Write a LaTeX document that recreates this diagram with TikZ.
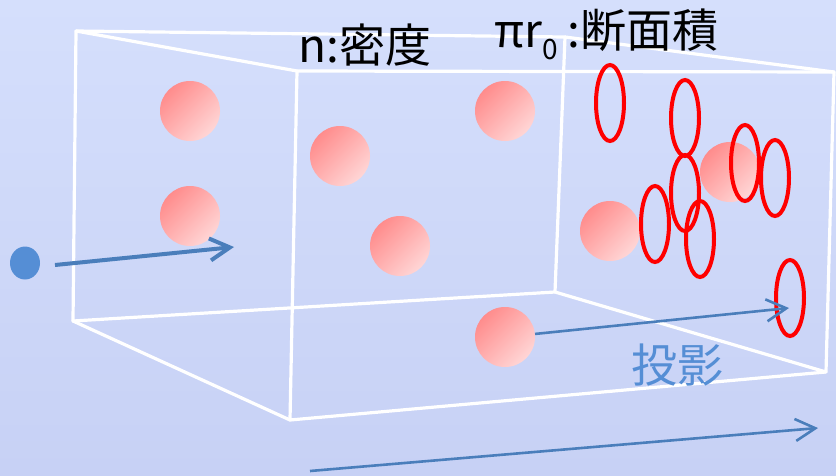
\documentclass[tikz,border=0pt]{standalone}
\usepackage{fontspec}
\newfontfamily\jpfont{Noto Sans CJK JP}
\usetikzlibrary{arrows.meta}
\usetikzlibrary{shapes.geometric}
\definecolor{bgtop}{HTML}{D5DFFC}
\definecolor{bgbot}{HTML}{C7D1F5}
\definecolor{ballhi}{HTML}{FF8C8C}
\definecolor{balllo}{HTML}{FFD6D6}
\definecolor{flowblue}{HTML}{4A7EBB}
\definecolor{dotblue}{HTML}{558ED5}
\tikzset{ball/.style = {circle, inner sep = 0, minimum size = 60, top color = ballhi, bottom color = balllo, shading angle = 45}}
\tikzset{ring/.style = {ellipse, draw = red, line width = 4pt, inner sep = 0, minimum width = 28, minimum height = 76}}
\tikzset{edge/.style = {white, line width = 3.2pt, line cap = round, line join = round}}
\tikzset{flow/.style = {flowblue, line width = 2.6pt, -{Straight Barb[length = 20pt, width = 22pt]}}}
\tikzset{lbl/.style = {inner sep = 0, anchor = base west, font = \jpfont\fontsize{46}{52}\selectfont}}

\begin{document}
\begin{tikzpicture}[x = 1pt, y = -1pt]
          \shade [top color = bgtop, bottom color = bgbot] (0, 0) rectangle (836, 475);
          \useasboundingbox (0, 0) rectangle (836, 475);

          % box corners
          \coordinate (kTL) at (76, 31);
          \coordinate (kTR) at (565, 37);
          \coordinate (kBR) at (555, 292);
          \coordinate (kBL) at (73, 321);
          \coordinate (fTL) at (297, 71);
          \coordinate (fTR) at (834, 72);
          \coordinate (fBR) at (826, 372);
          \coordinate (fBL) at (290, 420);

          \draw [edge] (kTL) -- (kTR) -- (kBR) -- (kBL) -- cycle;
          \draw [edge] (fTL) -- (fTR) -- (fBR) -- (fBL) -- cycle;
          \draw [edge] (kTL) -- (fTL);
          \draw [edge] (kTR) -- (fTR);
          \draw [edge] (kBR) -- (fBR);
          \draw [edge] (kBL) -- (fBL);

          \node [ball] (b1) at (190, 111) {};
          \node [ball] (b2) at (190, 216) {};
          \node [ball] (b3) at (340, 156) {};
          \node [ball] (b4) at (400, 246) {};
          \node [ball] (b5) at (505, 111) {};
          \node [ball] (b6) at (610, 231) {};
          \node [ball] (b7) at (730, 172) {};
          \node [ball] (b8) at (505, 337) {};

          \node [ring] (r1) at (610, 103) {};
          \node [ring] (r2) at (685, 118) {};
          \node [ring] (r3) at (685, 193) {};
          \node [ring] (r4) at (655, 224) {};
          \node [ring] (r5) at (700, 239) {};
          \node [ring] (r6) at (745, 163) {};
          \node [ring] (r7) at (775, 178) {};
          \node [ring] (r8) at (790, 298) {};

          \node [ellipse, fill = dotblue, inner sep = 0, minimum width = 30, minimum height = 33] (dot) at (25, 263) {};

          \coordinate (in1) at (55, 265);
          \coordinate (in2) at (234, 247);
          \coordinate (hit) at (789, 308);
          \coordinate (ax1) at (310, 471);
          \coordinate (ax2) at (818, 428);

          \draw [flow, line width = 4pt] (in1) -- (in2);
          \draw [flow] (b8) -- (hit);
          \draw [flow] (ax1) -- (ax2);

          \node [lbl] (dens) at (298, 62) {n:密度};
          \node [lbl] (sect) at (494, 47) {πr\raisebox{-12pt}{\fontsize{28}{30}\selectfont 0} :断面積};
          \node [lbl, text = dotblue] (proj) at (631, 382) {投影};
        \end{tikzpicture}
\end{document}
